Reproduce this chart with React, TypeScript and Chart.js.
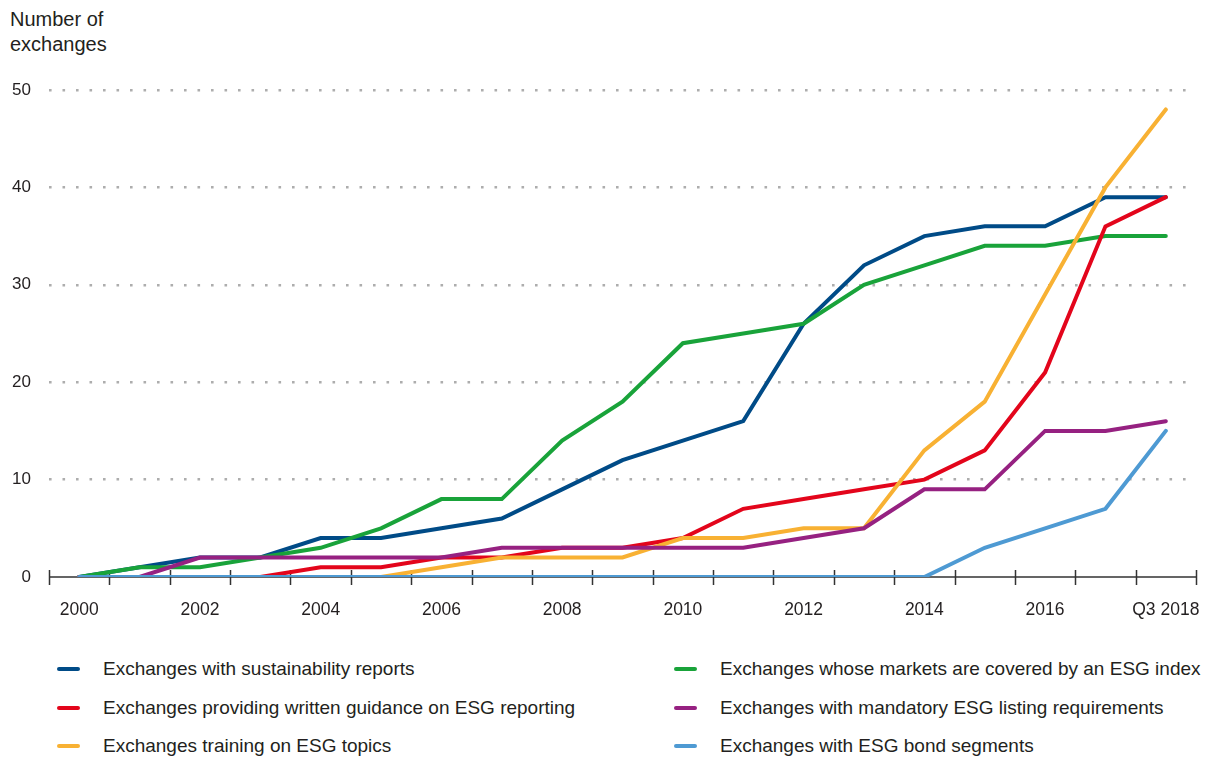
import React, { useEffect, useRef } from "react";
import { Chart, registerables } from "chart.js";

Chart.register(...registerables);

// ---- Data ----
const categories = [
  "2000", "2001", "2002", "2003", "2004", "2005", "2006", "2007", "2008",
  "2009", "2010", "2011", "2012", "2013", "2014", "2015", "2016", "2017", "Q3 2018",
];

const sustainabilityReports = [0, 1, 2, 2, 4, 4, 5, 6, 9, 12, 14, 16, 26, 32, 35, 36, 36, 39, 39];
const writtenGuidance = [0, 0, 0, 0, 1, 1, 2, 2, 3, 3, 4, 7, 8, 9, 10, 13, 21, 36, 39];
const trainingEsg = [0, 0, 0, 0, 0, 0, 1, 2, 2, 2, 4, 4, 5, 5, 13, 18, 29, 40, 48];
const esgIndex = [0, 1, 1, 2, 3, 5, 8, 8, 14, 18, 24, 25, 26, 30, 32, 34, 34, 35, 35];
const mandatoryListing = [0, 0, 2, 2, 2, 2, 2, 3, 3, 3, 3, 3, 4, 5, 9, 9, 15, 15, 16];
const bondSegments = [0, 0, 0, 0, 0, 0, 0, 0, 0, 0, 0, 0, 0, 0, 0, 3, 5, 7, 15];

const yTicks = [0, 10, 20, 30, 40, 50];

const seriesNames = [
  "Exchanges with sustainability reports",
  "Exchanges providing written guidance on ESG reporting",
  "Exchanges training on ESG topics",
  "Exchanges whose markets are covered by an ESG index",
  "Exchanges with mandatory ESG listing requirements",
  "Exchanges with ESG bond segments",
];
const seriesColors = ["#004B87", "#E3051B", "#F8B133", "#19A33A", "#962181", "#4E9AD3"];
const seriesValues = [
  sustainabilityReports,
  writtenGuidance,
  trainingEsg,
  esgIndex,
  mandatoryListing,
  bondSegments,
];
const drawOrder = [5, 3, 2, 4, 1, 0];

const FONT = "'Liberation Sans', Arial, Helvetica, sans-serif";
const TEXT = "#231F20";

const axisPlugin = {
  id: "axisTicks",
  beforeDatasetsDraw(chart: any) {
    const { ctx, chartArea, scales } = chart;
    const y0 = scales.y.getPixelForValue(0);
    const n = categories.length;
    const w = (chartArea.right - chartArea.left) / n;
    ctx.save();
    ctx.strokeStyle = "#333333";
    ctx.lineWidth = 1.5;
    ctx.beginPath();
    ctx.moveTo(chartArea.left, y0);
    ctx.lineTo(chartArea.right, y0);
    for (let i = 0; i <= n; i++) {
      const x = Math.round(chartArea.left + i * w) + 0.5;
      ctx.moveTo(x, y0 - 7);
      ctx.lineTo(x, y0 + 8);
    }
    ctx.stroke();
    ctx.restore();
  },
};

export default function App() {
  const ref = useRef<HTMLCanvasElement>(null);

  useEffect(() => {
    document.body.style.margin = "0";
    const canvas = ref.current;
    if (!canvas) return;
    const chart = new Chart(canvas, {
      type: "line",
      data: {
        labels: categories,
        datasets: seriesNames.map((name, i) => ({
          label: name,
          data: seriesValues[i],
          borderColor: seriesColors[i],
          backgroundColor: seriesColors[i],
          borderWidth: 4,
          pointRadius: 0,
          tension: 0,
          fill: false,
          borderCapStyle: "round" as const,
          borderJoinStyle: "miter" as const,
          order: drawOrder[i],
        })),
      },
      options: {
        animation: false,
        responsive: false,
        maintainAspectRatio: false,
        layout: { padding: { top: 90, right: 12, left: 0, bottom: 0 } },
        plugins: {
          legend: { display: false },
          tooltip: { enabled: false },
          title: { display: false },
        },
        scales: {
          x: {
            type: "category",
            offset: true,
            grid: { display: false, drawTicks: false },
            border: { display: false },
            ticks: {
              autoSkip: false,
              maxRotation: 0,
              minRotation: 0,
              padding: 23,
              color: TEXT,
              font: { family: FONT, size: 17.5 },
              callback: (_v: any, idx: number) =>
                idx % 2 === 0 ? categories[idx] : "",
            },
            afterFit: (scale: any) => {
              scale.height = 63;
              scale.paddingLeft = 0;
              scale.paddingRight = 0;
            },
          },
          y: {
            min: 0,
            max: 50,
            afterBuildTicks: (scale: any) => {
              scale.ticks = yTicks.map((v) => ({ value: v }));
            },
            grid: {
              drawTicks: false,
              color: (c: any) => (c.tick && c.tick.value === 0 ? "rgba(0,0,0,0)" : "#ADADAD"),
              lineWidth: 2.6,
            },
            border: { display: false, dash: [2.6, 10.9] },
            ticks: {
              padding: 18,
              color: TEXT,
              font: { family: FONT, size: 17 },
            },
            afterFit: (scale: any) => {
              scale.width = 49;
              scale.paddingTop = 0;
              scale.paddingBottom = 0;
            },
          },
        },
      },
      plugins: [axisPlugin],
    });
    return () => chart.destroy();
  }, []);

  const legendRows = [
    [0, 3],
    [1, 4],
    [2, 5],
  ];

  return (
    <div style={{ position: "relative", width: 1208, height: 758, fontFamily: FONT, color: TEXT, overflow: "hidden" }}>
      <div style={{ position: "absolute", left: 10, top: 7, fontSize: 20, lineHeight: "25px" }}>
        Number of
        <br />
        exchanges
      </div>
      <canvas ref={ref} width={1208} height={640} style={{ position: "absolute", left: 0, top: 0 }} />
      {legendRows.map((row, r) =>
        row.map((si, c) => (
          <div
            key={si}
            style={{
              position: "absolute",
              left: c === 0 ? 57 : 674,
              top: 669 + r * 38.5 - 14,
              height: 28,
              display: "flex",
              alignItems: "center",
              fontSize: 19,
              whiteSpace: "nowrap",
            }}
          >
            <span
              style={{
                display: "inline-block",
                width: 23,
                height: 4,
                borderRadius: 2,
                background: seriesColors[si],
                marginRight: 23,
              }}
            />
            <span>{seriesNames[si]}</span>
          </div>
        ))
      )}
    </div>
  );
}
